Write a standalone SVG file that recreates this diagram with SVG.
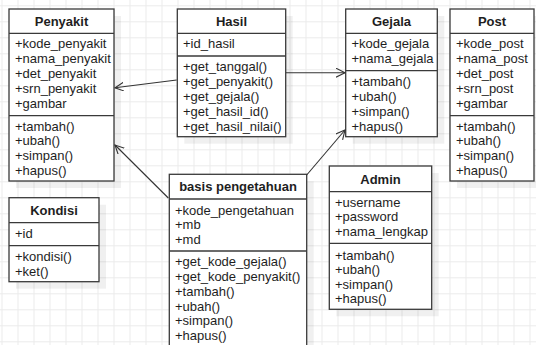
<svg xmlns="http://www.w3.org/2000/svg" width="536" height="345" viewBox="0 0 536 345">
<defs>
<pattern id="grid" patternUnits="userSpaceOnUse" x="1.5" y="5.3" width="16" height="16">
<path d="M0,0.5 H16 M0.5,0 V16" fill="none" stroke="#ebebeb" stroke-width="1"/>
</pattern>
<marker id="arr" markerUnits="userSpaceOnUse" markerWidth="12" markerHeight="12" refX="9" refY="4.5" orient="auto" viewBox="0 0 12 12">
<path d="M0,0 L9,4.5 L0,9" fill="none" stroke="#333" stroke-width="1.1"/>
</marker>
</defs>
<style>
.box{fill:#fff;stroke:#3a3a3a;stroke-width:1.3}
.sh{fill:#000;fill-opacity:0.06}
.sep{stroke:#3a3a3a;stroke-width:1.3}
.t{font-family:"Liberation Sans",Arial,sans-serif;font-size:13px;fill:#1e1e1e}
.h{font-family:"Liberation Sans",Arial,sans-serif;font-size:13px;font-weight:bold;fill:#1e1e1e;text-anchor:middle}
.c{fill:none;stroke:#333;stroke-width:1.1;marker-end:url(#arr)}
</style>
<rect width="536" height="345" fill="#fff"/>
<rect width="536" height="345" fill="url(#grid)"/>

<g id="penyakit">
<rect class="sh" x="16" y="16" width="105" height="172"/>
<rect class="box" x="9" y="9" width="105" height="172"/>
<line class="sep" x1="9" y1="33.3" x2="114" y2="33.3"/>
<line class="sep" x1="9" y1="115.7" x2="114" y2="115.7"/>
<text class="h" x="61.5" y="25.5">Penyakit</text>
<text class="t" x="15" y="47.8">+kode_penyakit</text>
<text class="t" x="15" y="62.8">+nama_penyakit</text>
<text class="t" x="15" y="77.7">+det_penyakit</text>
<text class="t" x="15" y="92.7">+srn_penyakit</text>
<text class="t" x="15" y="107.6">+gambar</text>
<text class="t" x="15" y="130.5">+tambah()</text>
<text class="t" x="15" y="145.3">+ubah()</text>
<text class="t" x="15" y="160">+simpan()</text>
<text class="t" x="15" y="174.8">+hapus()</text>
</g>

<g id="hasil">
<rect class="sh" x="184.3" y="16" width="108.4" height="127.7"/>
<rect class="box" x="177.3" y="9" width="108.4" height="127.7"/>
<line class="sep" x1="177.3" y1="33.3" x2="285.7" y2="33.3"/>
<line class="sep" x1="177.3" y1="56" x2="285.7" y2="56"/>
<text class="h" x="231.5" y="25.5">Hasil</text>
<text class="t" x="183" y="47.8">+id_hasil</text>
<text class="t" x="183" y="71.2">+get_tanggal()</text>
<text class="t" x="183" y="86.1">+get_penyakit()</text>
<text class="t" x="183" y="101">+get_gejala()</text>
<text class="t" x="183" y="115.8">+get_hasil_id()</text>
<text class="t" x="183" y="130.6">+get_hasil_nilai()</text>
</g>

<g id="gejala">
<rect class="sh" x="352.7" y="16" width="91.6" height="127.7"/>
<rect class="box" x="345.7" y="9" width="91.6" height="127.7"/>
<line class="sep" x1="345.7" y1="33.3" x2="437.3" y2="33.3"/>
<line class="sep" x1="345.7" y1="70.7" x2="437.3" y2="70.7"/>
<text class="h" x="391.5" y="25.5">Gejala</text>
<text class="t" x="351.5" y="47.8">+kode_gejala</text>
<text class="t" x="351.5" y="62.8">+nama_gejala</text>
<text class="t" x="351.5" y="86.2">+tambah()</text>
<text class="t" x="351.5" y="101">+ubah()</text>
<text class="t" x="351.5" y="115.8">+simpan()</text>
<text class="t" x="351.5" y="130.6">+hapus()</text>
</g>

<g id="post">
<rect class="sh" x="457" y="16" width="84" height="172"/>
<rect class="box" x="450" y="9" width="84" height="172"/>
<line class="sep" x1="450" y1="33.3" x2="534" y2="33.3"/>
<line class="sep" x1="450" y1="115.7" x2="534" y2="115.7"/>
<text class="h" x="492" y="25.5">Post</text>
<text class="t" x="456" y="47.8">+kode_post</text>
<text class="t" x="456" y="62.8">+nama_post</text>
<text class="t" x="456" y="77.7">+det_post</text>
<text class="t" x="456" y="92.7">+srn_post</text>
<text class="t" x="456" y="107.6">+gambar</text>
<text class="t" x="456" y="130.5">+tambah()</text>
<text class="t" x="456" y="145.3">+ubah()</text>
<text class="t" x="456" y="160">+simpan()</text>
<text class="t" x="456" y="174.8">+hapus()</text>
</g>

<g id="admin">
<rect class="sh" x="336.3" y="173" width="102.4" height="143.3"/>
<rect class="box" x="329.3" y="166" width="102.4" height="143.3"/>
<line class="sep" x1="329.3" y1="191.7" x2="431.7" y2="191.7"/>
<line class="sep" x1="329.3" y1="243.3" x2="431.7" y2="243.3"/>
<text class="h" x="380.5" y="183.5">Admin</text>
<text class="t" x="335" y="206.8">+username</text>
<text class="t" x="335" y="221.3">+password</text>
<text class="t" x="335" y="235.8">+nama_lengkap</text>
<text class="t" x="335" y="259.5">+tambah()</text>
<text class="t" x="335" y="274">+ubah()</text>
<text class="t" x="335" y="288.5">+simpan()</text>
<text class="t" x="335" y="303">+hapus()</text>
</g>

<g id="basis_pengetahuan">
<rect class="sh" x="176.3" y="181.3" width="137.4" height="180"/>
<rect class="box" x="169.3" y="174.3" width="137.4" height="180"/>
<line class="sep" x1="169.3" y1="199" x2="306.7" y2="199"/>
<line class="sep" x1="169.3" y1="251" x2="306.7" y2="251"/>
<text class="h" x="238" y="191.2">basis pengetahuan</text>
<text class="t" x="175" y="214.5">+kode_pengetahuan</text>
<text class="t" x="175" y="229.3">+mb</text>
<text class="t" x="175" y="244">+md</text>
<text class="t" x="175" y="266.2">+get_kode_gejala()</text>
<text class="t" x="175" y="281">+get_kode_penyakit()</text>
<text class="t" x="175" y="295.7">+tambah()</text>
<text class="t" x="175" y="310.5">+ubah()</text>
<text class="t" x="175" y="325.3">+simpan()</text>
<text class="t" x="175" y="340">+hapus()</text>
</g>

<g id="kondisi">
<rect class="sh" x="16" y="204.7" width="90" height="84"/>
<rect class="box" x="9" y="197.7" width="90" height="84"/>
<line class="sep" x1="9" y1="222.7" x2="99" y2="222.7"/>
<line class="sep" x1="9" y1="245.7" x2="99" y2="245.7"/>
<text class="h" x="54" y="214.5">Kondisi</text>
<text class="t" x="15" y="237.8">+id</text>
<text class="t" x="15" y="261.2">+kondisi()</text>
<text class="t" x="15" y="275.5">+ket()</text>
</g>

<g id="connectors">
<path class="c" d="M176.7,80 L115,87.8"/>
<path class="c" d="M286,72.7 L345,72.7"/>
<path class="c" d="M168.3,198 L115,145"/>
<path class="c" d="M306.7,175 L345,130"/>
</g>
</svg>
